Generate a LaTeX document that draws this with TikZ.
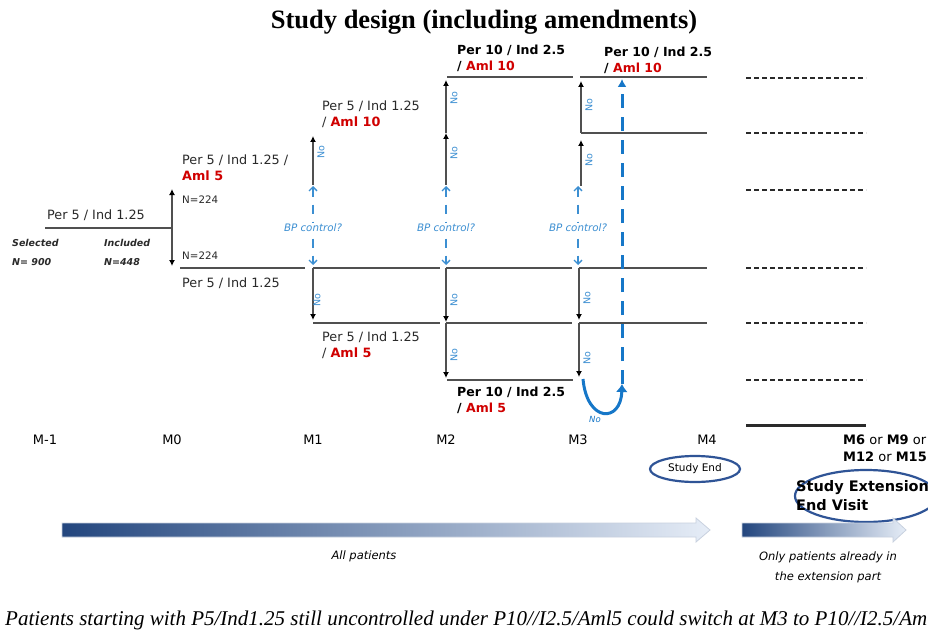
\documentclass[tikz,border=0pt]{standalone}
\usepackage{fontspec}
\setmainfont{Liberation Serif}
\newfontfamily\dvs{DejaVu Sans}
\usetikzlibrary{arrows.meta,shapes.geometric}
\definecolor{lgray}{HTML}{505050}
\definecolor{tgray}{HTML}{2A2A2A}
\definecolor{amlred}{HTML}{D00000}
\definecolor{bpblue}{HTML}{3C8FD2}
\definecolor{sblue}{HTML}{1677C8}
\definecolor{ellblue}{HTML}{2F5496}
\definecolor{gdark}{HTML}{23467E}
\definecolor{glight}{HTML}{E6EDF7}
\tikzset{
  ln/.style={draw=lgray, line width=2.2pt},
  arr/.style={ln, -{Latex[length=6pt,width=6pt,color=black]}},
  lbl/.style={font=\dvs\fontsize{12.8}{16}\selectfont, text=tgray, anchor=west, align=left, inner sep=0pt},
  blbl/.style={lbl, font=\dvs\bfseries\fontsize{12.5}{16}\selectfont, text=black},
  sel/.style={font=\dvs\bfseries\itshape\fontsize{9.5}{19}\selectfont, text=tgray, anchor=west, align=left, inner sep=0pt},
  nlbl/.style={font=\dvs\fontsize{10.3}{11}\selectfont, text=tgray, anchor=west, inner sep=0pt},
  nolbl/.style={font=\dvs\fontsize{9.5}{10}\selectfont, text=bpblue, rotate=90, inner sep=0pt},
  bptext/.style={font=\dvs\itshape\fontsize{10.3}{11}\selectfont, text=bpblue, fill=white, inner sep=1pt},
  bparr/.style={draw=bpblue, line width=1.3pt, dash pattern=on 9pt off 8pt, {Straight Barb[length=4pt,width=8pt]}-{Straight Barb[length=4pt,width=8pt]}},
  rdash/.style={draw=tgray, line width=2pt, dash pattern=on 5pt off 3pt},
  mlbl/.style={font=\dvs\fontsize{13}{17}\selectfont, text=black, inner sep=0pt},
  ell/.style={ellipse, draw=ellblue, line width=2.2pt, inner sep=0pt},
  ptext/.style={font=\dvs\itshape\fontsize{11.5}{20}\selectfont, text=black, align=center, inner sep=0pt},
  garrow/.style={left color=gdark, right color=glight, draw=white!75!gdark, line width=0.8pt}
}
\begin{document}
\begin{tikzpicture}[x=1pt,y=-1pt]
\useasboundingbox (0,0) rectangle (928,631);
\fill[white] (0,0) rectangle (928,631);

% title
\node[font=\bfseries\fontsize{26.5}{30}\selectfont] (title) at (484,22) {Study design (including amendments)};

% coordinates
\coordinate (start) at (45,228);
\coordinate (m0c) at (172,228);
\coordinate (m0u) at (172,189);
\coordinate (m0d) at (172,266);

% initial line and split
\draw[ln] (start) -- (m0c);
\draw[arr] (m0c) -- (m0u);
\draw[arr] (m0c) -- (m0d);
\node[lbl] (l0) at (47,215) {Per 5 / Ind 1.25};
\node[sel] (selt) at (12,252) {Selected\\N= 900};
\node[sel] (inct) at (104,252) {Included\\N=448};
\node[nlbl] (n1) at (182,200) {N=224};
\node[nlbl] (n2) at (182,256) {N=224};

% lower main line y=268
\coordinate (a1) at (180,268); \coordinate (a2) at (305,268);
\coordinate (a3) at (313,268); \coordinate (a4) at (440,268);
\coordinate (a5) at (446,268); \coordinate (a6) at (572,268);
\coordinate (a7) at (579,268); \coordinate (a8) at (707,268);
\draw[ln] (a1) -- (a2); \draw[ln] (a3) -- (a4); \draw[ln] (a5) -- (a6); \draw[ln] (a7) -- (a8);

% line y=323
\coordinate (b1) at (313,323); \coordinate (b2) at (440,323);
\coordinate (b3) at (446,323); \coordinate (b4) at (572,323);
\coordinate (b5) at (579,323); \coordinate (b6) at (707,323);
\draw[ln] (b1) -- (b2); \draw[ln] (b3) -- (b4); \draw[ln] (b5) -- (b6);

% line y=380
\coordinate (c1) at (447,380); \coordinate (c2) at (573,380);
\draw[ln] (c1) -- (c2);

% upper lines
\coordinate (u1) at (447,77); \coordinate (u2) at (573,77);
\coordinate (u3) at (580,77); \coordinate (u4) at (707,77);
\coordinate (v1) at (581,133); \coordinate (v2) at (707,133);
\draw[ln] (u1) -- (u2); \draw[ln] (u3) -- (u4); \draw[ln] (v1) -- (v2);

% verticals M1
\coordinate (m1a) at (313,185); \coordinate (m1b) at (313,136);
\draw[arr] (m1a) -- (m1b);
\draw[arr] (a3) -- (313,320);
% verticals M2
\coordinate (m2a) at (446,185); \coordinate (m2b) at (446,133); \coordinate (m2c) at (446,80);
\draw[arr] (m2a) -- (m2b);
\draw[arr] (m2b) -- (m2c);
\draw[arr] (a5) -- (446,322);
\draw[arr] (b3) -- (446,378);
% verticals M3
\coordinate (m3a) at (581,186); \coordinate (m3b) at (581,140); \coordinate (m3c) at (581,81);
\draw[arr] (m3a) -- (m3b);
\draw[arr] (v1) -- (m3c);
\draw[arr] (a7) -- (579,320);
\draw[arr] (b5) -- (579,377);

% "No" labels
\node[nolbl] at (321,152) {No};
\node[nolbl] at (317,300) {No};
\node[nolbl] at (454,98) {No};
\node[nolbl] at (454,153) {No};
\node[nolbl] at (454,300) {No};
\node[nolbl] at (454,355) {No};
\node[nolbl] at (589,105) {No};
\node[nolbl] at (589,160) {No};
\node[nolbl] at (587,298) {No};
\node[nolbl] at (587,358) {No};

% BP control
\foreach \xx/\nm in {313/bp1,446/bp2,578/bp3}{
  \coordinate (\nm t) at (\xx,186);
  \coordinate (\nm b) at (\xx,265);
  \draw[bparr] (\nm t) -- (\nm b);
  \node[bptext] (\nm) at (\xx,228) {BP control?};
}

% branch labels
\node[lbl] (p0u) at (182,168) {Per 5 / Ind 1.25 /\\\textcolor{amlred}{\bfseries Aml 5}};
\node[lbl] (p1u) at (322,114) {Per 5 / Ind 1.25\\/ \textcolor{amlred}{\bfseries Aml 10}};
\node[blbl] (p2u) at (457,58) {Per 10 / Ind 2.5\\/ \textcolor{amlred}{Aml 10}};
\node[blbl] (p3u) at (604,60) {Per 10 / Ind 2.5\\/ \textcolor{amlred}{Aml 10}};
\node[lbl] (p0l) at (182,283) {Per 5 / Ind 1.25};
\node[lbl] (p1l) at (322,345) {Per 5 / Ind 1.25\\/ \textcolor{amlred}{\bfseries Aml 5}};
\node[blbl] (p2l) at (457,400) {Per 10 / Ind 2.5\\/ \textcolor{amlred}{Aml 5}};

% switch arrow
\coordinate (sw0) at (583,379);
\coordinate (sw1) at (622,384);
\coordinate (sw2) at (622,79);
\draw[draw=sblue, line width=3pt, -{Latex[length=8pt,width=12pt]}] (sw0) .. controls (587,423) and (621,423) .. (sw1);
\draw[draw=sblue, line width=3pt, dash pattern=on 14pt off 9pt, -{Latex[length=8pt,width=9pt]}] (sw1) -- (sw2);
\node[font=\dvs\itshape\fontsize{8.5}{9}\selectfont, text=sblue] (swno) at (595,419) {No};

% right dashed lines
\foreach \yy in {78,133,190,268,323,380}{
  \draw[rdash] (746,\yy) -- (866,\yy);
}
\draw[draw=tgray, line width=3pt] (746,425) -- (866,425);

% timeline
\node[mlbl] (tm1) at (45,440) {M-1};
\node[mlbl] (t0) at (172,440) {M0};
\node[mlbl] (t1) at (313,440) {M1};
\node[mlbl] (t2) at (446,440) {M2};
\node[mlbl] (t3) at (578,440) {M3};
\node[mlbl] (t4) at (707,440) {M4};
\node[mlbl, anchor=west, align=left] (t6) at (843,448) {\textbf{M6} or \textbf{M9} or\\\textbf{M12} or \textbf{M15}};

% ellipses
\node[ell, minimum width=90pt, minimum height=26pt] (se) at (695,469) {};
\node[font=\dvs\fontsize{10.5}{11}\selectfont] at (se) {Study End};
\node[ell, minimum width=142pt, minimum height=52pt] (sx) at (866,496) {};
\node[font=\dvs\bfseries\fontsize{14.5}{19}\selectfont, anchor=west, align=left, inner sep=0pt] (sxt) at (796,496) {Study Extension\\End Visit};

% gradient arrows
\shade[garrow] (62,523) -- (696,523) -- (696,518) -- (710,530) -- (696,542) -- (696,537) -- (62,537) -- cycle;
\shade[garrow] (742,523) -- (893,523) -- (893,518) -- (906,530) -- (893,542) -- (893,537) -- (742,537) -- cycle;
\node[ptext] (allp) at (364,556) {All patients};
\node[ptext] (onlyp) at (828,567) {Only patients already in\\the extension part};

% footnote
\node[font=\itshape\fontsize{21}{23}\selectfont, anchor=west, inner sep=0pt] (foot) at (5,620) {Patients starting with P5/Ind1.25 still uncontrolled under P10//I2.5/Aml5 could switch at M3 to P10//I2.5/Aml10};
\end{tikzpicture}
\end{document}
